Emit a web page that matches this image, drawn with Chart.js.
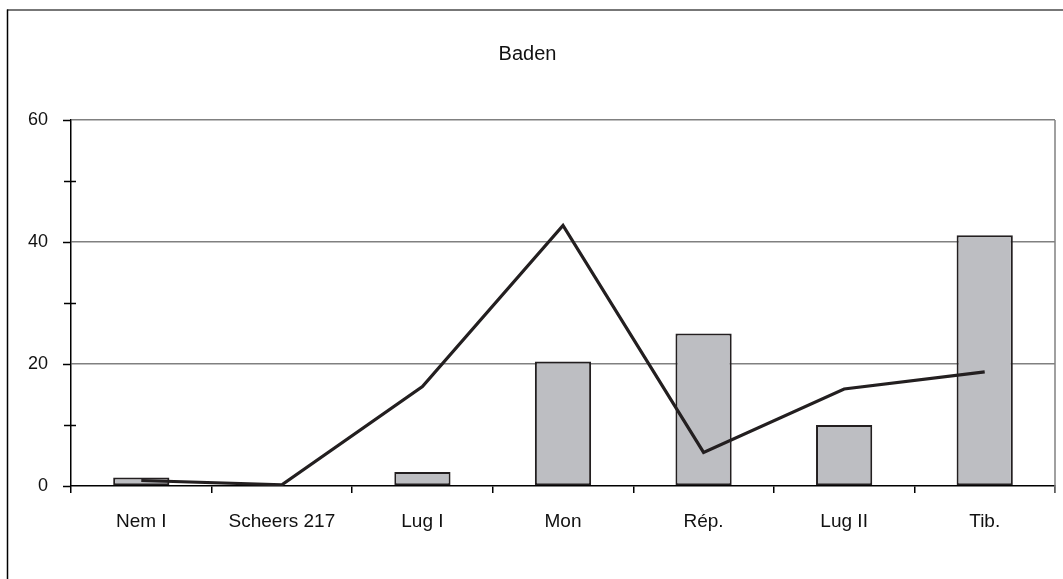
<!DOCTYPE html>
<html>
<head>
<meta charset="utf-8">
<script src="https://cdn.jsdelivr.net/npm/chart.js@4/dist/chart.umd.min.js"></script>
<style>
html,body{margin:0;padding:0;background:#fff;}
#wrap{width:1063px;height:579px;position:relative;}
</style>
</head>
<body>
<div id="wrap"><canvas id="c" width="1063" height="579"></canvas></div>
<script>
const categories = ['Nem I', 'Scheers 217', 'Lug I', 'Mon', 'Rép.', 'Lug II', 'Tib.'];
const barValues = [1.4, 0, 2.3, 20.4, 25.0, 10.0, 41.1];
const lineValues = [0.9, 0.2, 16.3, 42.7, 5.5, 15.9, 18.7];
const yTickValues = [0, 10, 20, 30, 40, 50, 60];
const titleText = 'Baden';

const FONT = "'Liberation Sans', Arial, sans-serif";

const framePlugin = {
  id: 'frame',
  beforeDraw(chart) {
    const ctx = chart.ctx;
    ctx.save();
    ctx.fillStyle = '#fff';
    ctx.fillRect(0, 0, chart.width, chart.height);
    ctx.lineWidth = 1.5;
    ctx.strokeStyle = '#4a4a4a';
    ctx.beginPath();
    ctx.moveTo(7, 10);
    ctx.lineTo(chart.width, 10);
    ctx.stroke();
    ctx.strokeStyle = '#000';
    ctx.beginPath();
    ctx.moveTo(7.5, 9.5);
    ctx.lineTo(7.5, chart.height);
    ctx.stroke();
    ctx.restore();
  },
  afterDatasetsDraw(chart) {
    const ctx = chart.ctx;
    const a = chart.chartArea;
    const y = chart.scales.y;
    ctx.save();
    ctx.strokeStyle = '#808080';
    ctx.lineWidth = 1.5;
    ctx.beginPath();
    ctx.moveTo(a.right, a.top);
    ctx.lineTo(a.right, a.bottom + 7);
    ctx.stroke();
    ctx.strokeStyle = '#000';
    ctx.lineWidth = 1.5;
    yTickValues.forEach(v => {
      const py = Math.round(y.getPixelForValue(v)) + 0.5;
      ctx.beginPath();
      if (v % 20 === 0) {
        ctx.moveTo(a.left - 8, py);
        ctx.lineTo(a.left, py);
      } else {
        ctx.moveTo(a.left - 7, py);
        ctx.lineTo(a.left + 5, py);
      }
      ctx.stroke();
    });
    ctx.restore();
  }
};

new Chart(document.getElementById('c'), {
  type: 'bar',
  data: {
    labels: categories,
    datasets: [
      {
        type: 'line',
        data: lineValues,
        borderColor: '#231f20',
        borderWidth: 3.2,
        pointRadius: 0,
        tension: 0,
        fill: false,
        order: 0
      },
      {
        type: 'bar',
        data: barValues,
        backgroundColor: '#bdbec2',
        borderColor: '#231f20',
        borderWidth: 2,
        borderSkipped: false,
        categoryPercentage: 1,
        barPercentage: 0.4,
        order: 1
      }
    ]
  },
  options: {
    responsive: false,
    animation: false,
    devicePixelRatio: 1,
    layout: { padding: { left: 0, right: 8, top: 0, bottom: 0 } },
    plugins: {
      legend: { display: false },
      tooltip: { enabled: false },
      title: {
        display: true,
        text: titleText,
        color: '#111',
        font: { family: FONT, size: 20, weight: 'normal', lineHeight: 1.2 },
        padding: { top: 42, bottom: 54 }
      }
    },
    scales: {
      x: {
        offset: true,
        grid: {
          offset: true,
          drawOnChartArea: false,
          drawTicks: true,
          tickLength: 7,
          color: '#000',
          lineWidth: 1.5
        },
        border: { color: '#000', width: 1.5 },
        ticks: {
          color: '#111',
          font: { family: FONT, size: 19 },
          padding: 17,
          maxRotation: 0,
          autoSkip: false
        },
        afterFit(scale) { scale.height = 93; }
      },
      y: {
        min: 0,
        max: 60,
        afterBuildTicks(scale) { scale.ticks = yTickValues.map(v => ({ value: v })); },
        grid: {
          color: ctx => (ctx.tick && ctx.tick.value % 20 === 0 && ctx.tick.value > 0) ? '#808080' : 'rgba(0,0,0,0)',
          lineWidth: 1.5,
          drawTicks: true,
          tickLength: 8,
          tickColor: 'rgba(0,0,0,0)'
        },
        border: { color: '#000', width: 1.5 },
        ticks: {
          color: '#111',
          font: { family: FONT, size: 18 },
          padding: 15,
          callback: v => (v % 20 === 0 ? String(v) : '')
        },
        afterFit(scale) { scale.width = 71; }
      }
    }
  },
  plugins: [framePlugin]
});
</script>
</body>
</html>
